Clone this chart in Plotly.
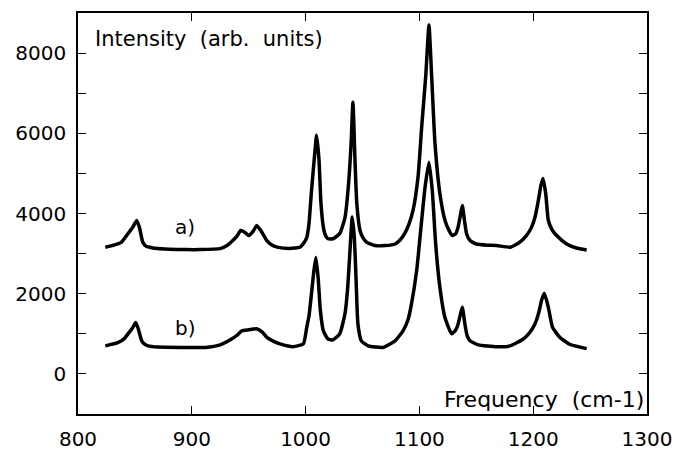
import plotly.graph_objects as go

# Spectrum a)
freq_a = [824, 830, 838, 844, 848, 851.6, 854, 857, 860, 863, 870, 880, 895, 907, 925, 931, 936, 940,
          943, 947, 950, 954, 957, 961, 966, 970, 975, 986, 995, 998, 1001, 1003, 1005, 1007.5, 1009.7,
          1011.8, 1013.5, 1015.6, 1017.5, 1019.7, 1024, 1030, 1034.6, 1037.5, 1040, 1041.6, 1043.4, 1045,
          1047.8, 1050.5, 1053.7, 1061, 1070, 1078.6, 1083, 1087, 1091, 1094.4, 1098.8, 1102, 1105.5,
          1108.4, 1110.8, 1113.7, 1118, 1122.5, 1126, 1129, 1132, 1134, 1136, 1137.7, 1139.5, 1141.5,
          1144.5, 1150, 1160, 1168, 1180, 1188, 1194, 1198.6, 1201.6, 1204.5, 1206.8, 1208.6, 1211,
          1213.3, 1216.5, 1220.6, 1229.4, 1238, 1247]
int_a = [3160, 3200, 3280, 3500, 3650, 3825, 3650, 3280, 3180, 3160, 3125, 3110, 3100, 3100, 3125, 3200,
         3325, 3450, 3575, 3520, 3450, 3560, 3700, 3560, 3325, 3220, 3160, 3125, 3160, 3250, 3400, 3750,
         4500, 5325, 5950, 5325, 4250, 3660, 3450, 3370, 3370, 3500, 3900, 4660, 5750, 6775, 5325, 4250,
         3575, 3390, 3280, 3200, 3200, 3240, 3340, 3500, 3750, 4075, 4910, 6160, 7400, 8700, 7400, 5750,
         4500, 3825, 3580, 3450, 3500, 3660, 3950, 4200, 3850, 3490, 3325, 3240, 3210, 3200, 3160, 3280,
         3450, 3660, 3910, 4325, 4700, 4875, 4500, 3825, 3600, 3450, 3240, 3140, 3090]

# Spectrum b)
freq_b = [824, 835, 840, 844, 848, 850.7, 853, 856, 858.5, 861.5, 870, 890, 912, 925, 935, 940, 944, 950,
          957, 962, 966, 972, 977.5, 989, 998, 1001, 1003, 1004.8, 1007, 1009, 1011, 1013, 1015.6, 1019.7,
          1024, 1030, 1034.6, 1037, 1039, 1041, 1042.8, 1044.3, 1046, 1049, 1055, 1068, 1078.6, 1085.6,
          1090, 1093, 1097.6, 1101.4, 1105, 1108.4, 1111.3, 1114.3, 1118, 1122.5, 1128.4, 1132, 1134,
          1136, 1137.7, 1140, 1142, 1144.5, 1151.8, 1168, 1179.6, 1191, 1196, 1200, 1203, 1205.3, 1207.5,
          1209.8, 1213.3, 1217, 1223.5, 1232, 1247]
int_b = [700, 780, 860, 1000, 1150, 1280, 1120, 825, 740, 700, 670, 660, 660, 725, 870, 970, 1075, 1100,
         1125, 1040, 910, 810, 750, 680, 750, 1160, 1450, 1900, 2500, 2900, 2400, 1575, 1075, 870, 850,
         1000, 1500, 2160, 3075, 3910, 3400, 2400, 1240, 825, 700, 660, 825, 1075, 1350, 1740, 2575, 3660,
         4660, 5280, 4575, 3240, 2160, 1400, 1000, 1100, 1240, 1480, 1660, 1240, 950, 825, 725, 675, 700,
         865, 1000, 1160, 1350, 1575, 1850, 2010, 1660, 1160, 910, 740, 630]

x_ticks = [800, 900, 1000, 1100, 1200, 1300]
y_tickvals = [0, 1000, 2000, 3000, 4000, 5000, 6000, 7000, 8000]
y_ticktext = ["0", "", "2000", "", "4000", "", "6000", "", "8000"]

FONT = "DejaVu Sans"

fig = go.Figure()
for fx, fy in ((freq_a, int_a), (freq_b, int_b)):
    fig.add_trace(go.Scatter(x=fx, y=fy, mode="lines",
                             line=dict(color="black", width=3.5, shape="spline", smoothing=0.5),
                             showlegend=False))

axis_common = dict(showgrid=False, zeroline=False, showline=True, linecolor="black",
                   linewidth=1.5, mirror="allticks", ticks="inside", ticklen=8,
                   tickwidth=1.2, tickcolor="black", automargin=False,
                   tickfont=dict(family=FONT, size=20, color="black"))

fig.update_xaxes(range=[800, 1300], tickvals=x_ticks, ticklabelstandoff=6, **axis_common)
fig.update_yaxes(range=[-1000, 9000], tickvals=y_tickvals, ticktext=y_ticktext,
                 ticklabelstandoff=6, **axis_common)

fig.add_annotation(text="Intensity  (arb.  units)", xref="paper", yref="paper",
                   x=0.026, y=0.935, xanchor="left", yanchor="middle", showarrow=False,
                   font=dict(family=FONT, size=21, color="black"))
fig.add_annotation(text="Frequency  (cm-1)", xref="paper", yref="paper",
                   x=0.998, y=0.037, xanchor="right", yanchor="middle", showarrow=False,
                   font=dict(family=FONT, size=22, color="black"))
fig.add_annotation(text="a)", x=883.5, y=3675, xanchor="left", yanchor="middle", showarrow=False,
                   font=dict(family=FONT, size=20, color="black"))
fig.add_annotation(text="b)", x=883.5, y=1150, xanchor="left", yanchor="middle", showarrow=False,
                   font=dict(family=FONT, size=20, color="black"))

fig.update_layout(width=675, height=450, margin=dict(l=78, r=28, t=13, b=36),
                  paper_bgcolor="white", plot_bgcolor="white")

fig.write_html("out.html")
